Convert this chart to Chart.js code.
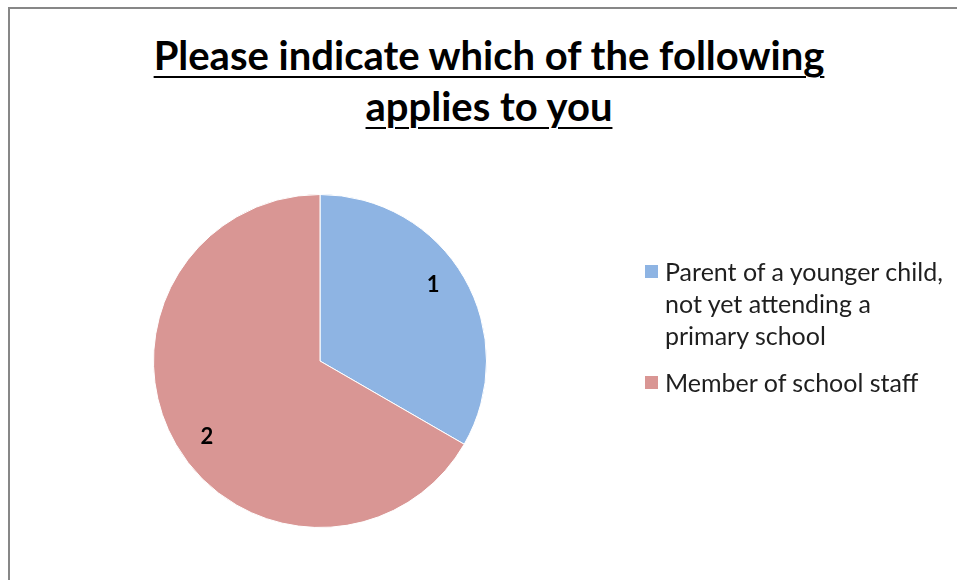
<!DOCTYPE html>
<html>
<head>
<meta charset="utf-8">
<script src="https://cdn.jsdelivr.net/npm/chart.js@4/dist/chart.umd.min.js"></script>
<style>
  html, body { margin: 0; padding: 0; background: #fff; }
  body { width: 957px; height: 580px; position: relative; overflow: hidden; font-family: Lato, "Open Sans", sans-serif; }
  #frame { position: absolute; left: 8px; top: 7px; width: 1000px; height: 700px; border-left: 2px solid #878787; border-top: 2px solid #878787; }
  #title { position: absolute; left: 0; top: 30px; width: 978px; text-align: center; font-weight: bold; font-size: 40px; line-height: 51px; color: #000; text-decoration: underline; text-decoration-thickness: 2px; text-underline-offset: 6px; }
  #myChart { position: absolute; left: 0; top: 0; }
  #legend { position: absolute; left: 645px; top: 255px; font-size: 25px; line-height: 32px; color: #1f1f1f; }
  .item { position: relative; padding-left: 20px; margin-bottom: 15px; white-space: nowrap; }
  .swatch { position: absolute; left: 0; top: 10px; width: 13px; height: 13px; }
</style>
</head>
<body>
<div id="frame"></div>
<div id="title">Please indicate which of the following<br>applies to you</div>
<canvas id="myChart" width="957" height="580"></canvas>
<div id="legend"></div>
<script>
const categories = [
    ["Parent of a younger child,", "not yet attending a", "primary school"],
    ["Member of school staff"]
];
const counts = [1, 2];
const colours = ['#8EB4E3', '#D99694'];

// writes the count inside each slice, a bit in from the rim
const sliceLabels = {
    id: 'sliceLabels',
    afterDatasetsDraw(chart) {
        const ctx = chart.ctx;
        const meta = chart.getDatasetMeta(0);
        ctx.save();
        ctx.font = 'bold 22px Lato, "Open Sans", sans-serif';
        ctx.fillStyle = '#000';
        ctx.textAlign = 'center';
        ctx.textBaseline = 'middle';
        meta.data.forEach((arc, i) => {
            const mid = (arc.startAngle + arc.endAngle) / 2 - 0.07;
            const r = arc.outerRadius * 0.82;
            ctx.fillText(String(counts[i]), arc.x + Math.cos(mid) * r, arc.y + Math.sin(mid) * r);
        });
        ctx.restore();
    }
};

const ctx = document.getElementById('myChart');
const chart = new Chart(ctx, {
    type: 'pie',
    data: {
        labels: categories,
        datasets: [{
            data: counts,
            backgroundColor: colours,
            borderColor: '#ffffff',
            borderWidth: 1
        }]
    },
    options: {
        responsive: false,
        animation: false,
        layout: {
            padding: { left: 153, right: 470, top: 194, bottom: 52 }
        },
        plugins: {
            legend: { display: false },
            tooltip: { enabled: false }
        }
    },
    plugins: [sliceLabels]
});

// legend built from the same labels and colours
const legend = document.getElementById('legend');
categories.forEach((lines, i) => {
    const item = document.createElement('div');
    item.className = 'item';
    const swatch = document.createElement('span');
    swatch.className = 'swatch';
    swatch.style.background = colours[i];
    item.appendChild(swatch);
    lines.forEach((line, j) => {
        if (j > 0) item.appendChild(document.createElement('br'));
        item.appendChild(document.createTextNode(line));
    });
    legend.appendChild(item);
});
</script>
</body>
</html>
